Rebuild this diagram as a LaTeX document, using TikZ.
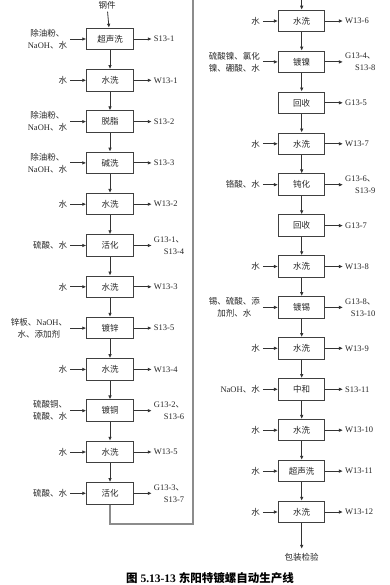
\documentclass[tikz,border=0pt]{standalone}
\usepackage{fontspec}
\setmainfont{Liberation Serif}
\newfontfamily\cjk{Noto Sans CJK SC}
\newcommand\lat[1]{{\rmfamily #1}}
\newcommand\zh[1]{{\cjk #1}}
\usetikzlibrary{arrows.meta}
\begin{document}
\begin{tikzpicture}[x=1pt,y=-1pt,
  every node/.style={text=black!85},
  proc/.style={draw=black!75, line width=1pt, minimum width=46.5pt, minimum height=21.5pt,
    inner sep=0pt, font=\fontsize{8.5}{11}\selectfont\cjk},
  inlab/.style={anchor=east, align=center, inner sep=0pt, font=\fontsize{8.5}{12}\selectfont\cjk},
  outlab/.style={anchor=west, align=right, inner sep=0pt, font=\fontsize{8.5}{12}\selectfont\rmfamily},
  flow/.style={draw=black!80, line width=0.8pt, -{Latex[length=4pt,width=3.6pt]}},
  feed/.style={flow, shorten <=3pt},
  emit/.style={flow, shorten >=2pt},
  link/.style={draw=black!45, line width=1.2pt}
]
\useasboundingbox (0,0) rectangle (390,585);
\clip (0,0) rectangle (390,585);

% ---------- left column ----------
\foreach \n/\y/\t in {1/39/超声洗, 2/80.3/水洗, 3/121.6/脱脂, 4/162.9/碱洗, 5/204.2/水洗, 6/245.5/活化,
  7/286.8/水洗, 8/328.1/镀锌, 9/369.4/水洗, 10/410.7/镀铜, 11/452/水洗, 12/493.3/活化}
  \node[proc] (L\n) at (110,\y) {\t};
\foreach \a/\b in {1/2,2/3,3/4,4/5,5/6,6/7,7/8,8/9,9/10,10/11,11/12}
  \draw[flow] (L\a) -- (L\b);

\node[inlab] (Li1) at ([xshift=-19pt]L1.west) {除油粉、\\\lat{NaOH}、水};
\node[inlab] (Li2) at ([xshift=-19pt]L2.west) {水};
\node[inlab] (Li3) at ([xshift=-19pt]L3.west) {除油粉、\\\lat{NaOH}、水};
\node[inlab] (Li4) at ([xshift=-19pt]L4.west) {除油粉、\\\lat{NaOH}、水};
\node[inlab] (Li5) at ([xshift=-19pt]L5.west) {水};
\node[inlab] (Li6) at ([xshift=-19pt]L6.west) {硫酸、水};
\node[inlab] (Li7) at ([xshift=-19pt]L7.west) {水};
\node[inlab] (Li8) at ([xshift=-19pt]L8.west) {锌板、\lat{NaOH}、\\水、添加剂};
\node[inlab] (Li9) at ([xshift=-19pt]L9.west) {水};
\node[inlab] (Li10) at ([xshift=-19pt]L10.west) {硫酸铜、\\硫酸、水};
\node[inlab] (Li11) at ([xshift=-19pt]L11.west) {水};
\node[inlab] (Li12) at ([xshift=-19pt]L12.west) {硫酸、水};
\foreach \n in {1,...,12} \draw[feed] (Li\n) -- (L\n);

\node[outlab] (Lo1) at ([xshift=20pt]L1.east) {S13-1};
\node[outlab] (Lo2) at ([xshift=20pt]L2.east) {W13-1};
\node[outlab] (Lo3) at ([xshift=20pt]L3.east) {S13-2};
\node[outlab] (Lo4) at ([xshift=20pt]L4.east) {S13-3};
\node[outlab] (Lo5) at ([xshift=20pt]L5.east) {W13-2};
\node[outlab] (Lo6) at ([xshift=20pt]L6.east) {G13-1\zh{、}\\S13-4};
\node[outlab] (Lo7) at ([xshift=20pt]L7.east) {W13-3};
\node[outlab] (Lo8) at ([xshift=20pt]L8.east) {S13-5};
\node[outlab] (Lo9) at ([xshift=20pt]L9.east) {W13-4};
\node[outlab] (Lo10) at ([xshift=20pt]L10.east) {G13-2\zh{、}\\S13-6};
\node[outlab] (Lo11) at ([xshift=20pt]L11.east) {W13-5};
\node[outlab] (Lo12) at ([xshift=20pt]L12.east) {G13-3\zh{、}\\S13-7};
\foreach \n in {1,...,12} \draw[emit] (L\n) -- (Lo\n);

\node[inlab, anchor=center] (start) at (107,5.5) {钢件};
\draw[flow, shorten <=2pt] (start) -- (L1);

% ---------- right column ----------
\foreach \n/\y/\t in {1/21/水洗, 2/61.9/镀镍, 3/102.8/回收, 4/143.8/水洗, 5/184.7/钝化, 6/225.6/回收,
  7/266.5/水洗, 8/307.4/镀锡, 9/348.3/水洗, 10/389.3/中和, 11/430.2/水洗, 12/471.1/超声洗, 13/512/水洗}
  \node[proc] (R\n) at (301.7,\y) {\t};
\foreach \a/\b in {1/2,2/3,3/4,4/5,5/6,6/7,7/8,8/9,9/10,10/11,11/12,12/13}
  \draw[flow] (R\a) -- (R\b);

\node[inlab] (Ri1) at ([xshift=-18pt]R1.west) {水};
\node[inlab] (Ri2) at ([xshift=-18pt]R2.west) {硫酸镍、氯化\\镍、硼酸、水};
\node[inlab] (Ri4) at ([xshift=-18pt]R4.west) {水};
\node[inlab] (Ri5) at ([xshift=-18pt]R5.west) {铬酸、水};
\node[inlab] (Ri7) at ([xshift=-18pt]R7.west) {水};
\node[inlab] (Ri8) at ([xshift=-18pt]R8.west) {锡、硫酸、添\\加剂、水};
\node[inlab] (Ri9) at ([xshift=-18pt]R9.west) {水};
\node[inlab] (Ri10) at ([xshift=-18pt]R10.west) {\lat{NaOH}、水};
\node[inlab] (Ri11) at ([xshift=-18pt]R11.west) {水};
\node[inlab] (Ri12) at ([xshift=-18pt]R12.west) {水};
\node[inlab] (Ri13) at ([xshift=-18pt]R13.west) {水};
\foreach \n in {1,2,4,5,7,8,9,10,11,12,13} \draw[feed] (Ri\n) -- (R\n);

\node[outlab] (Ro1) at ([xshift=19.5pt]R1.east) {W13-6};
\node[outlab] (Ro2) at ([xshift=19.5pt]R2.east) {G13-4\zh{、}\\S13-8};
\node[outlab] (Ro3) at ([xshift=19.5pt]R3.east) {G13-5};
\node[outlab] (Ro4) at ([xshift=19.5pt]R4.east) {W13-7};
\node[outlab] (Ro5) at ([xshift=19.5pt]R5.east) {G13-6\zh{、}\\S13-9};
\node[outlab] (Ro6) at ([xshift=19.5pt]R6.east) {G13-7};
\node[outlab] (Ro7) at ([xshift=19.5pt]R7.east) {W13-8};
\node[outlab] (Ro8) at ([xshift=19.5pt]R8.east) {G13-8\zh{、}\\S13-10};
\node[outlab] (Ro9) at ([xshift=19.5pt]R9.east) {W13-9};
\node[outlab] (Ro10) at ([xshift=19.5pt]R10.east) {S13-11};
\node[outlab] (Ro11) at ([xshift=19.5pt]R11.east) {W13-10};
\node[outlab] (Ro12) at ([xshift=19.5pt]R12.east) {W13-11};
\node[outlab] (Ro13) at ([xshift=19.5pt]R13.east) {W13-12};
\foreach \n in {1,...,13} \draw[emit] (R\n) -- (Ro\n);

\node[inlab, anchor=center] (end) at (301.7,557) {包装检验};
\draw[flow, shorten >=4pt] (R13) -- (end);

% ---------- link between columns ----------
\coordinate (bend) at (193,524);
\coordinate (topL) at (193,-30);
\coordinate (topR) at (301.7,-30);
\draw[link] (L12.south) |- (bend) -- (topL) -- (topR);
\draw[flow] (topR) -- (R1.north);

% ---------- caption ----------
\node[anchor=base, inner sep=0pt, font=\fontsize{11.5}{14}\selectfont\bfseries, text=black] (cap)
  at (210,582.5) {\zh{图} 5.13-13 \zh{东阳特镀螺自动生产线}};
\end{tikzpicture}
\end{document}
